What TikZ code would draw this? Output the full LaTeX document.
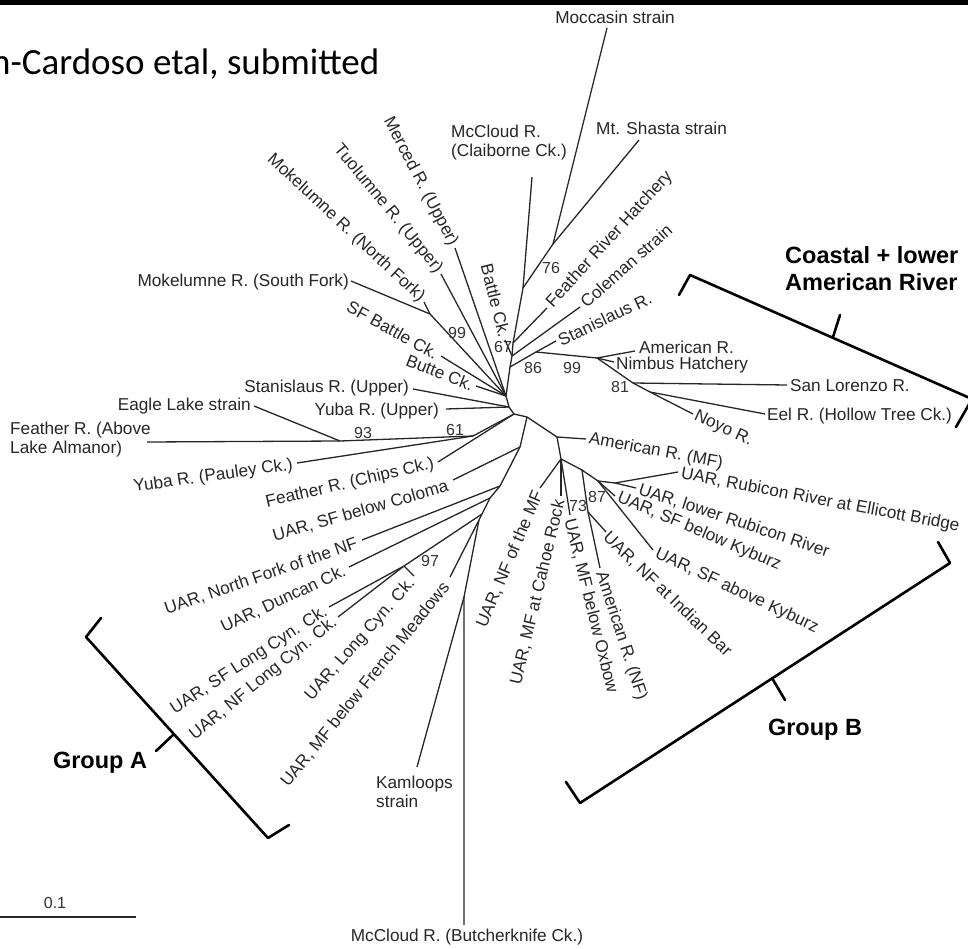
\documentclass[tikz,border=0pt]{standalone}
\usepackage{fontspec}
\setmainfont{Liberation Sans}
\newfontfamily\titlefont{Carlito}
\begin{document}
\begin{tikzpicture}[x=1pt,y=-1pt,
  br/.style={line width=1.3pt, draw=black!85},
  lab/.style={font=\fontsize{17.2}{19}\selectfont, text=black!85, inner sep=1pt},
  bs/.style={font=\fontsize{16}{18}\selectfont, text=black!80, inner sep=0pt},
  grp/.style={font=\fontsize{23.5}{26}\selectfont\bfseries, inner sep=0pt},
  brk/.style={line width=2.6pt, line cap=round, line join=round}
]
\useasboundingbox (0,0) rectangle (968,949);
\fill[black] (0,0) rectangle (968,5);
\node[anchor=base west, inner sep=0, font=\titlefont\fontsize{37}{40}\selectfont] (title) at (-9,75) {n-Cardoso etal, submitted};

% ---------- internal nodes ----------
\coordinate (H0) at (506,396);
\coordinate (H1) at (509,407);
\coordinate (H2) at (514,414);
\coordinate (H3) at (527,417);
\coordinate (T1) at (510,367);
\coordinate (T2) at (512,356);
\coordinate (T3) at (513,343);
\coordinate (M) at (523,288);
\coordinate (N76) at (553,244);
\coordinate (Nsa) at (536,352);
\coordinate (N99) at (597,358);
\coordinate (N81) at (633,383);
\coordinate (NE) at (650,392);
\coordinate (Mk) at (430,314);
\coordinate (N61) at (473,436);
\coordinate (N93) at (340,441);
\coordinate (A1) at (520,447);
\coordinate (A2) at (500,486);
\coordinate (A3) at (490,498);
\coordinate (A4) at (482,514);
\coordinate (A5) at (479,520);
\coordinate (A6) at (464,597);
\coordinate (N97) at (404,566);
\coordinate (NMF) at (557,437);
\coordinate (NB) at (561,459);
\coordinate (NG) at (582,470);
\coordinate (N73) at (588,512);
\coordinate (N87) at (598,481);
\coordinate (NR) at (615,483);

% ---------- tips ----------
\coordinate (tMoc) at (607,28);
\coordinate (tSha) at (639,140);
\coordinate (tMcC) at (532,177);
\coordinate (tFRH) at (547,308);
\coordinate (tCol) at (580,307);
\coordinate (tBat) at (505,340);
\coordinate (tSta) at (556,341);
\coordinate (tAm) at (635,351);
\coordinate (tNim) at (614,362);
\coordinate (tSL) at (787,385);
\coordinate (tEel) at (765,414);
\coordinate (tNoy) at (693,414);
\coordinate (tMkS) at (351,281);
\coordinate (tMkN) at (424,302);
\coordinate (tTuo) at (441,274);
\coordinate (tMer) at (455,248);
\coordinate (tSFB) at (441,356);
\coordinate (tBut) at (476,386);
\coordinate (tStU) at (413,389);
\coordinate (tYuU) at (446,409);
\coordinate (tFeA) at (147,442);
\coordinate (tEag) at (254,406);
\coordinate (tYuP) at (297,463);
\coordinate (tChi) at (438,462);
\coordinate (tClm) at (453,480);
\coordinate (tNFNF) at (362,540);
\coordinate (tDun) at (349,567);
\coordinate (tSFL) at (329,607);
\coordinate (tNFL) at (338,617);
\coordinate (tLCy) at (414,576);
\coordinate (tFM) at (450,577);
\coordinate (tKam) at (417,767);
\coordinate (tBck) at (464,925);
\coordinate (tAMF) at (586,439);
\coordinate (tNFMF) at (540,488);
\coordinate (tCah) at (561,496);
\coordinate (tOxb) at (570,515);
\coordinate (tInd) at (606,532);
\coordinate (tANF) at (600,568);
\coordinate (tEll) at (678,472);
\coordinate (tLRu) at (636,488);
\coordinate (tSFbK) at (615,496);
\coordinate (tSFaK) at (653,550);

% ---------- branches ----------
\draw[br] (H0)--(H1)--(H2)--(H3);
\draw[br] (H0)--(T1)--(T2)--(T3)--(M)--(N76);
\draw[br] (N76)--(tMoc);
\draw[br] (N76)--(tSha);
\draw[br] (M)--(tMcC);
\draw[br] (T3)--(tFRH);
\draw[br] (T2)--(tCol);
\draw[br] (T2)--(tBat);
\draw[br] (T1)--(Nsa)--(N99);
\draw[br] (Nsa)--(tSta);
\draw[br] (N99)--(tAm);
\draw[br] (N99)--(tNim);
\draw[br] (N99)--(N81)--(tSL);
\draw[br] (N81)--(NE)--(tEel);
\draw[br] (NE)--(tNoy);
\draw[br] (H0)--(Mk)--(tMkS);
\draw[br] (Mk)--(tMkN);
\draw[br] (H0)--(tTuo);
\draw[br] (H0)--(tMer);
\draw[br] (H0)--(tSFB);
\draw[br] (H0)--(tBut);
\draw[br] (H1)--(tStU);
\draw[br] (H1)--(tYuU);
\draw[br] (H2)--(N61)--(N93)--(tFeA);
\draw[br] (N93)--(tEag);
\draw[br] (N61)--(tYuP);
\draw[br] (H2)--(tChi);
\draw[br] (H3)--(A1)--(A2)--(A3)--(A4)--(A5)--(A6)--(tBck);
\draw[br] (A1)--(tClm);
\draw[br] (A2)--(tNFNF);
\draw[br] (A3)--(tDun);
\draw[br] (A4)--(N97)--(tSFL);
\draw[br] (N97)--(tNFL);
\draw[br] (N97)--(tLCy);
\draw[br] (A5)--(tFM);
\draw[br] (A6)--(tKam);
\draw[br] (H3)--(NMF)--(tAMF);
\draw[br] (NMF)--(NB)--(tNFMF);
\draw[br] (NB)--(tCah);
\draw[br] (NB)--(tOxb);
\draw[br] (NB)--(NG)--(N73)--(tInd);
\draw[br] (N73)--(tANF);
\draw[br] (NG)--(N87)--(NR)--(tEll);
\draw[br] (NR)--(tLRu);
\draw[br] (N87)--(tSFbK);
\draw[br] (N87)--(tSFaK);

% ---------- leaf labels ----------
\node[lab] (lMoc) at (615,17) {Moccasin strain};
\node[lab, anchor=west] (lSha) at (595,128) {Mt. Shasta strain};
\node[lab, anchor=west, align=left] (lMcC) at (450,143) {McCloud R.\\(Claiborne Ck.)};
\node[lab, anchor=west, rotate=47.6] (lFRH) at (549,306) {Feather River Hatchery};
\node[lab, anchor=west, rotate=41.6] (lCol) at (582,305) {Coleman strain};
\node[lab, anchor=west, rotate=25.3] (lSta) at (558,341) {Stanislaus R.};
\node[lab, anchor=west] (lAm) at (638,347) {American R.};
\node[lab, anchor=west] (lNim) at (615,365) {Nimbus Hatchery};
\node[lab, anchor=west] (lSL) at (789,386) {San Lorenzo R.};
\node[lab, anchor=west] (lEel) at (766,416) {Eel R. (Hollow Tree Ck.)};
\node[lab, anchor=west, rotate=-25] (lNoy) at (694,415) {Noyo R.};
\node[lab, anchor=east] (lMkS) at (350,282) {Mokelumne R. (South Fork)};
\node[lab, anchor=east, rotate=-43] (lMkN) at (423,300) {Mokelumne R. (North Fork)};
\node[lab, anchor=east, rotate=-50.5] (lTuo) at (440,272) {Tuolumne R. (Upper)};
\node[lab, anchor=east, rotate=-62.4] (lMer) at (454,246) {Merced R. (Upper)};
\node[lab, anchor=east, rotate=-76] (lBat) at (505,338) {Battle Ck.};
\node[lab, anchor=east, rotate=-29] (lSFB) at (438,355) {SF Battle Ck.};
\node[lab, anchor=east, rotate=-21.7] (lBut) at (474,386) {Butte Ck.};
\node[lab, anchor=east] (lStU) at (410,388) {Stanislaus R. (Upper)};
\node[lab, anchor=east] (lYuU) at (440,411) {Yuba R. (Upper)};
\node[lab, anchor=east] (lEag) at (252,406) {Eagle Lake strain};
\node[lab, anchor=west, align=left] (lFeA) at (9,440) {Feather R. (Above\\Lake Almanor)};
\node[lab, anchor=east, rotate=8] (lYuP) at (294,465) {Yuba R. (Pauley Ck.)};
\node[lab, anchor=east, rotate=13] (lChi) at (435,464) {Feather R. (Chips Ck.)};
\node[lab, anchor=east, rotate=16] (lClm) at (449,486) {UAR, SF below Coloma};
\node[lab, anchor=east, rotate=19] (lNFNF) at (358,543) {UAR, North Fork of the NF};
\node[lab, anchor=east, rotate=25] (lDun) at (346,570) {UAR, Duncan Ck.};
\node[lab, anchor=east, rotate=33] (lSFL) at (327,610) {UAR, SF Long Cyn. Ck.};
\node[lab, anchor=east, rotate=39] (lNFL) at (336,620) {UAR, NF Long Cyn. Ck.};
\node[lab, anchor=east, rotate=48.5] (lLCy) at (413,580) {UAR, Long Cyn. Ck.};
\node[lab, anchor=east, rotate=51] (lFM) at (447,584) {UAR, MF below French Meadows};
\node[lab, anchor=west, align=left] (lKam) at (375,792) {Kamloops\\strain};
\node[lab] (lBck) at (467,937) {McCloud R. (Butcherknife Ck.)};
\node[lab, anchor=west, rotate=-10.4] (lAMF) at (588,439) {American R. (MF)};
\node[lab, anchor=east, rotate=67] (lNFMF) at (539,491) {UAR, NF of the MF};
\node[lab, anchor=east, rotate=76.6] (lCah) at (560,499) {UAR, MF at Cahoe Rock};
\node[lab, anchor=west, rotate=-76] (lOxb) at (569,518) {UAR, MF below Oxbow};
\node[lab, anchor=west, rotate=-72] (lANF) at (600,571) {American R. (NF)};
\node[lab, anchor=west, rotate=-44] (lInd) at (605,534) {UAR, NF at Indian Bar};
\node[lab, anchor=west, rotate=-25] (lSFaK) at (655,553) {UAR, SF above Kyburz};
\node[lab, anchor=west, rotate=-23] (lSFbK) at (617,497) {UAR, SF below Kyburz};
\node[lab, anchor=west, rotate=-18.3] (lLRu) at (638,489) {UAR, lower Rubicon River};
\node[lab, anchor=west, rotate=-10.7] (lEll) at (680,474) {UAR, Rubicon River at Ellicott Bridge};

% ---------- support values ----------
\node[bs] (b67) at (503,347) {67};
\node[bs] (b86) at (533,368) {86};
\node[bs] (b99a) at (572,368) {99};
\node[bs] (b81) at (620,387) {81};
\node[bs] (b76) at (551,268) {76};
\node[bs] (b99b) at (457,333) {99};
\node[bs] (b93) at (363,433) {93};
\node[bs] (b61) at (455,430) {61};
\node[bs] (b97) at (430,561) {97};
\node[bs] (b73) at (578,506) {73};
\node[bs] (b87) at (597,497) {87};

% ---------- brackets ----------
\coordinate (cA) at (679,295); \coordinate (cB) at (690,275);
\coordinate (cC) at (972,399); \coordinate (cD) at (956,427);
\coordinate (cM) at (833,337); \coordinate (cT) at (840,315);
\draw[brk] (cA)--(cB)--(cC)--(cD);
\draw[brk] (cM)--(cT);
\node[grp, anchor=west] (gC1) at (785,255) {Coastal + lower};
\node[grp, anchor=west] (gC2) at (785,282) {American River};

\coordinate (bA) at (938,542); \coordinate (bB) at (950,563);
\coordinate (bC) at (580,803); \coordinate (bD) at (566,782);
\coordinate (bM) at (772,678); \coordinate (bT) at (785,700);
\draw[brk] (bA)--(bB)--(bC)--(bD);
\draw[brk] (bM)--(bT);
\node[grp] (gB) at (815,730) {Group B};

\coordinate (aA) at (101,618); \coordinate (aB) at (86,637);
\coordinate (aC) at (268,838); \coordinate (aD) at (289,825);
\coordinate (aM) at (174,734); \coordinate (aT) at (156,751);
\draw[brk] (aA)--(aB)--(aC)--(aD);
\draw[brk] (aM)--(aT);
\node[grp] (gA) at (100,763) {Group A};

% ---------- scale bar ----------
\coordinate (s0) at (0,917); \coordinate (s1) at (136,917);
\draw[br] (s0)--(s1);
\node[bs] (sl) at (55,903) {0.1};
\end{tikzpicture}
\end{document}
